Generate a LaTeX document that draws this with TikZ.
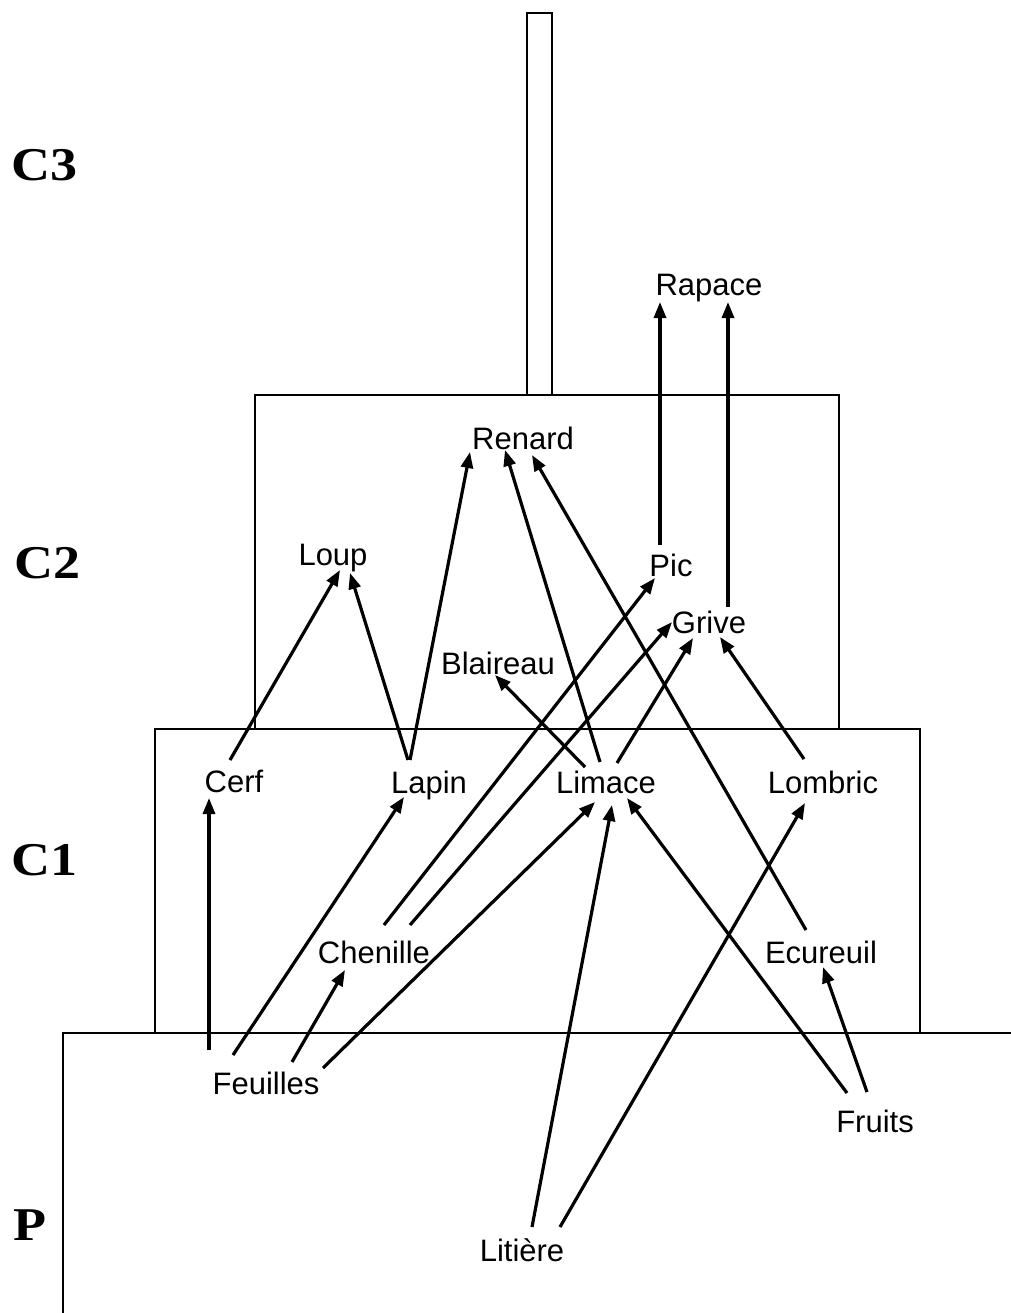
\documentclass[tikz,border=0pt]{standalone}
\usepackage{fontspec}
\setmainfont{Liberation Sans}
\newfontfamily\headfont{Liberation Serif}
\usetikzlibrary{arrows.meta,calc}
\begin{document}
\begin{tikzpicture}[x=0.5pt,y=-0.5pt,
  lbl/.style={inner sep=0pt,font=\fontsize{15.5}{18}\selectfont},
  lvl/.style={inner sep=0pt,font=\fontsize{23.5}{27}\selectfont\headfont\bfseries,xscale=1.15},
  box/.style={line width=0.8pt},
  arr/.style={line width=1.6pt,-{Triangle[length=8pt,width=6pt]}}]
\useasboundingbox[fill=white] (0,0) rectangle (1011,1313);
% level boxes
\draw[box] (1011,1033) -- (63,1033) -- (63,1313);
\draw[box] (155,1033) -- (155,729) -- (920,729) -- (920,1033);
\draw[box] (255,729) -- (255,395) -- (839,395) -- (839,729);
\draw[box] (527,395) -- (527,13) -- (552,13) -- (552,395);
% level labels
\node[lvl] (c3) at (45,165) {C3};
\node[lvl] (c2) at (48,563) {C2};
\node[lvl] (c1) at (45,860) {C1};
\node[lvl] (p) at (30,1225) {P};
% organisms
\node[lbl] (rapace) at (709,288) {Rapace};
\node[lbl] (renard) at (523,438) {Renard};
\node[lbl] (loup) at (333,558) {Loup};
\node[lbl] (pic) at (671,565) {Pic};
\node[lbl] (grive) at (709,622) {Grive};
\node[lbl] (blaireau) at (498,663) {Blaireau};
\node[lbl] (cerf) at (234,781) {Cerf};
\node[lbl] (lapin) at (429,785) {Lapin};
\node[lbl] (limace) at (606,782) {Limace};
\node[lbl] (lombric) at (823,782) {Lombric};
\node[lbl] (chenille) at (374,952) {Chenille};
\node[lbl] (ecureuil) at (821,952) {Ecureuil};
\node[lbl] (feuilles) at (266,1083) {Feuilles};
\node[lbl] (fruits) at (875,1121) {Fruits};
\node[lbl] (litiere) at (522,1250) {Litière};
% arrows
\draw[arr] ($(cerf)+(-4,-21)$) -- ($(loup)+(7,12)$);
\draw[arr] ($(lapin)+(-21,-25)$) -- ($(loup)+(17,15)$);
\draw[arr] ($(lapin)+(-19,-25)$) -- ($(renard)+(-53,14)$);
\draw[arr] ($(limace)+(-6,-20)$) -- ($(renard)+(-18,12)$);
\draw[arr] ($(ecureuil)+(-15,-22)$) -- ($(renard)+(9,17)$);
\draw[arr] ($(pic)+(-11,-20)$) -- ($(rapace)+(-49,14)$);
\draw[arr] ($(grive)+(19,-15)$) -- ($(rapace)+(19,14)$);
\draw[arr] ($(limace)+(-21,-15)$) -- ($(blaireau)+(-3,12)$);
\draw[arr] ($(limace)+(11,-19)$) -- ($(grive)+(-16,16)$);
\draw[arr] ($(lombric)+(-19,-23)$) -- ($(grive)+(11,15)$);
\draw[arr] ($(chenille)+(10,-27)$) -- ($(pic)+(-16,13)$);
\draw[arr] ($(chenille)+(36,-27)$) -- ($(grive)+(-37,0)$);
\draw[arr] ($(feuilles)+(-57,-33)$) -- ($(cerf)+(-25,17)$);
\draw[arr] ($(feuilles)+(-33,-28)$) -- ($(lapin)+(-25,12)$);
\draw[arr] ($(feuilles)+(26,-21)$) -- ($(chenille)+(-29,18)$);
\draw[arr] ($(feuilles)+(57,-15)$) -- ($(limace)+(-11,20)$);
\draw[arr] ($(litiere)+(10,-23)$) -- ($(limace)+(6,23)$);
\draw[arr] ($(litiere)+(38,-23)$) -- ($(lombric)+(-18,21)$);
\draw[arr] ($(fruits)+(-28,-28)$) -- ($(limace)+(21,16)$);
\draw[arr] ($(fruits)+(-8,-29)$) -- ($(ecureuil)+(2,15)$);
\end{tikzpicture}
\end{document}
